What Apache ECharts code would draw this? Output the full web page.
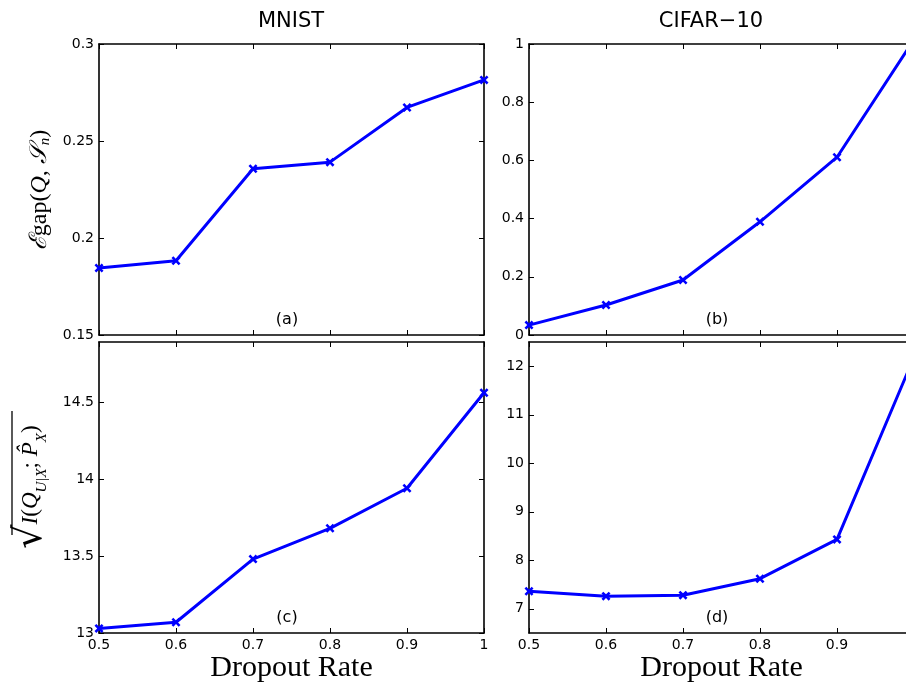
<!DOCTYPE html>
<html><head><meta charset="utf-8">
<script src="https://cdn.jsdelivr.net/npm/echarts@6/dist/echarts.min.js"></script>
<style>html,body{margin:0;padding:0;background:#fff}#c{width:906px;height:683px}</style>
</head><body><div id="c"></div>
<script>
const dropout = [0.5, 0.6, 0.7, 0.8, 0.9, 1.0];
const mnistGap = [0.1845, 0.1883, 0.2357, 0.2391, 0.2673, 0.2815];
const cifarGap = [0.034, 0.103, 0.189, 0.389, 0.611, 1.015];
const mnistInfo = [13.03, 13.07, 13.48, 13.68, 13.94, 14.56];
const cifarInfo = [7.36, 7.26, 7.28, 7.62, 8.43, 12.19];
const titles = ['MNIST', 'CIFAR\u221210'];
const panelLabels = ['(a)', '(b)', '(c)', '(d)'];

const blue = '#0000ff';
const sans = 'DejaVu Sans';
const serif = 'Liberation Serif';
const xMark = 'path://M0,2L2,0L5,3L8,0L10,2L7,5L10,8L8,10L5,7L2,10L0,8L3,5Z';

const grids = [
  {left: 99, top: 44, width: 385, height: 291},
  {left: 529, top: 44, width: 385, height: 291},
  {left: 99, top: 342, width: 385, height: 291},
  {left: 529, top: 342, width: 385, height: 291}
];
const yCfg = [
  {min: 0.15, max: 0.3, interval: 0.05},
  {min: 0, max: 1, interval: 0.2},
  {min: 13, max: 14.89, custom: [13, 13.5, 14, 14.5]},
  {min: 6.5, max: 12.5, custom: [7, 8, 9, 10, 11, 12]}
];
const seriesData = [mnistGap, cifarGap, mnistInfo, cifarInfo];

const lineStyle = {color: '#000', width: 1.6};
const xAxes = [], yAxes = [], series = [];
grids.forEach((g, i) => {
  const bottomRow = i >= 2;
  const base = {type: 'value', gridIndex: i, min: 0.5, max: 1.0, interval: 0.1,
    axisLine: {show: true, onZero: false, lineStyle},
    axisTick: {show: true, inside: true, length: 5, lineStyle: {color: '#000', width: 1}},
    splitLine: {show: false}};
  xAxes.push(Object.assign({}, base, {position: 'bottom',
    axisLabel: {show: bottomRow, color: '#000', fontFamily: sans, fontSize: 14, margin: 5},
    name: bottomRow ? 'Dropout Rate' : '', nameLocation: 'middle', nameGap: 17,
    nameTextStyle: {fontFamily: serif, fontSize: 30, color: '#000'}}));
  xAxes.push(Object.assign({}, base, {position: 'top', axisLabel: {show: false}}));
  const c = yCfg[i];
  const yb = {type: 'value', gridIndex: i, min: c.min, max: c.max,
    axisLine: {show: true, onZero: false, lineStyle},
    axisTick: {show: true, inside: true, length: 5, lineStyle: {color: '#000', width: 1}},
    splitLine: {show: false}};
  if (c.interval) yb.interval = c.interval;
  if (c.custom) yb.axisTick.customValues = c.custom;
  const lab = {show: true, color: '#000', fontFamily: sans, fontSize: 14, margin: 5};
  if (c.custom) lab.customValues = c.custom;
  yAxes.push(Object.assign({}, yb, {position: 'left', axisLabel: lab}));
  yAxes.push(Object.assign({}, yb, {position: 'right', axisLabel: {show: false}}));
  series.push({type: 'line', xAxisIndex: 2 * i, yAxisIndex: 2 * i,
    data: dropout.map((x, k) => [x, seriesData[i][k]]),
    lineStyle: {color: blue, width: 3}, itemStyle: {color: blue},
    symbol: xMark, symbolSize: 9, showSymbol: true, animation: false, clip: true,
    label: {show: false}});
});

const titleList = [
  {text: titles[0], left: 291, top: 11, textAlign: 'center'},
  {text: titles[1], left: 711, top: 11, textAlign: 'center'},
  {text: panelLabels[0], left: 287, top: 312, textAlign: 'center', small: true},
  {text: panelLabels[1], left: 717, top: 312, textAlign: 'center', small: true},
  {text: panelLabels[2], left: 287, top: 610, textAlign: 'center', small: true},
  {text: panelLabels[3], left: 717, top: 610, textAlign: 'center', small: true}
].map(t => ({text: t.text, left: t.left, top: t.top, textAlign: t.textAlign, padding: 0,
  textStyle: {fontFamily: sans, fontWeight: 'normal', color: '#000', fontSize: t.small ? 16 : 21}}));

const rich1 = {
  c: {fontFamily: 'DejaVu Serif', fontStyle: 'italic', fontSize: 24, color: '#000'},
  r: {fontFamily: serif, fontSize: 24, color: '#000'},
  i: {fontFamily: serif, fontStyle: 'italic', fontSize: 24, color: '#000'},
  s: {fontFamily: serif, fontStyle: 'italic', fontSize: 15, color: '#000', verticalAlign: 'bottom', padding: [10, 0, 0, 0]}
};
const rich2 = {
  sq: {fontFamily: 'DejaVu Sans', fontSize: 38, color: '#000'},
  r: {fontFamily: serif, fontSize: 23, color: '#000'},
  i: {fontFamily: serif, fontStyle: 'italic', fontSize: 23, color: '#000'},
  s: {fontFamily: serif, fontStyle: 'italic', fontSize: 15, color: '#000', verticalAlign: 'bottom', padding: [10, 0, 0, 0]}
};

const option = {
  animation: false,
  backgroundColor: '#fff',
  title: titleList,
  grid: grids.map(g => Object.assign({containLabel: false, outerBoundsMode: 'none'}, g)),
  xAxis: xAxes, yAxis: yAxes, series,
  graphic: [
    {type: 'text', x: 40, y: 190, rotation: Math.PI / 2,
     style: {text: '{c|\u2130}{r|gap}{r|(}{i|Q}{r|, }{c|\uD835\uDCAE}{s|n}{r|)}', rich: rich1,
       align: 'center', verticalAlign: 'middle'}},
    {type: 'group', x: 31, y: 487, rotation: Math.PI / 2, children: [
      {type: 'text', x: 0, y: 0,
       style: {text: '{sq|\u221A}{i|I}{r|(}{i|Q}{s|U|X}{r|; }{i|P\u0302}{s|X}{r|)}', rich: rich2,
         align: 'center', verticalAlign: 'middle'}},
      {type: 'line', shape: {x1: -48, y1: -19, x2: 76, y2: -19}, style: {stroke: '#000', lineWidth: 1.3}}
    ]}
  ]
};
const chart = echarts.init(document.getElementById('c'), null, {renderer: 'canvas'});
chart.setOption(option);
</script></body></html>
